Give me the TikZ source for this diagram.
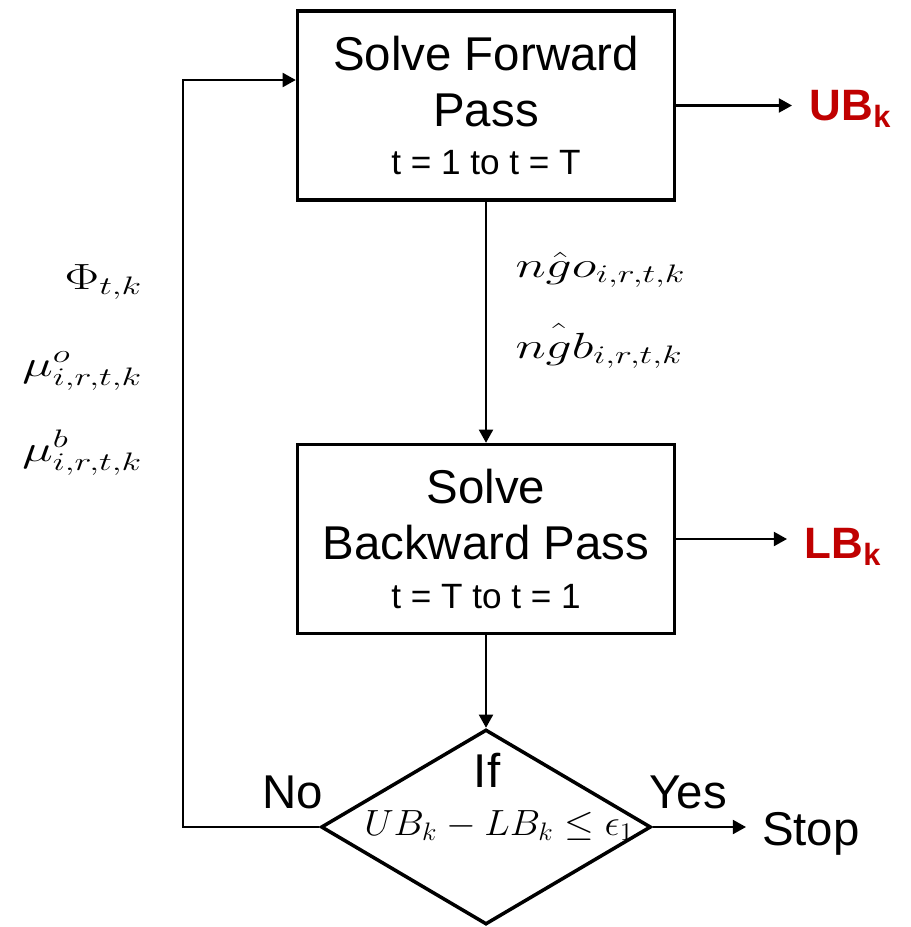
\documentclass[tikz,border=0pt]{standalone}
\usepackage[no-math]{fontspec}
\setmainfont{Liberation Sans}
\usetikzlibrary{shapes.geometric,arrows.meta}
\definecolor{boundred}{RGB}{192,0,0}
\newcommand{\tsmall}[1]{{\fontsize{20}{24}\selectfont #1}}

\tikzset{
  passbox/.style={draw, line width=2pt, minimum width=7.54cm, minimum height=3.78cm,
    align=center, font=\fontsize{27}{32}\selectfont},
  testbox/.style={draw, diamond, line width=2pt, minimum width=6.6cm, minimum height=3.9cm, inner sep=0pt},
  flow/.style={-{Triangle[length=7.5pt,width=8pt]}, line width=1.2pt},
  bound/.style={text=boundred, font=\bfseries\fontsize{25}{30}\selectfont, inner xsep=10pt, anchor=base west},
  word/.style={font=\fontsize{27}{32}\selectfont},
  sym/.style={font=\fontsize{21}{25}\selectfont, inner sep=0pt, xscale=1.42, transform shape}
}

\begin{document}
\begin{tikzpicture}[x=0.02cm, y=-0.02cm]
    \useasboundingbox (0,0) rectangle (911,927);

    % Blocks
    \node[passbox] (fwd) at (486,105.5) {Solve Forward\\Pass\\[-4.3pt]\tsmall{t = 1 to t = T}};
    \node[passbox] (bwd) at (486,539) {Solve\\Backward Pass\\[-4.3pt]\tsmall{t = T to t = 1}};
    \node[testbox] (test) at (486,827) {};
    \node[word, anchor=base] (if) at (487,787) {If};
    \node[anchor=base, inner sep=0pt, font=\fontsize{20}{24}\selectfont, xscale=1.05, transform shape]
        (cond) at (499,835) {$UB_k - LB_k \le \epsilon_1$};

    % Bounds and exit
    \node[bound] (ub) at (792,120) {UB\textsubscript{k}};
    \node[bound] (lb) at (787,558) {LB\textsubscript{k}};
    \node[word, anchor=base west, inner xsep=9pt] (stop) at (746,845) {Stop};
    \node[word, anchor=base] (yes) at (688,808) {Yes};
    \node[word, anchor=base] (no) at (293,808) {No};

    % Passed values
    \node[sym, anchor=base west] (ngo) at (515,277) {$n\hat{g}o_{i,r,t,k}$};
    \node[sym, anchor=base west] (ngb) at (515,358) {$n\hat{\vphantom{b}g}b_{i,r,t,k}$};
    \node[sym, anchor=base east] (phi) at (143,289) {$\Phi_{t,k}$};
    \node[sym, anchor=base east] (muo) at (143,376) {$\mu^{o}_{i,r,t,k}$};
    \node[sym, anchor=base east] (mub) at (143,461) {$\mu^{b}_{i,r,t,k}$};

    % Arrows
    \draw[flow] (fwd.east) -- (fwd.east -| ub.west);
    \draw[flow] (bwd.east) -- (bwd.east -| lb.west);
    \draw[flow] (fwd) -- (bwd);
    \draw[flow] (bwd) -- (test);
    \draw[flow] (test.east) -- (test.east -| stop.west);
    \coordinate (back) at (183,80);
    \draw[flow] (test.west) -| (back) -- (back -| fwd.west);
\end{tikzpicture}
\end{document}
